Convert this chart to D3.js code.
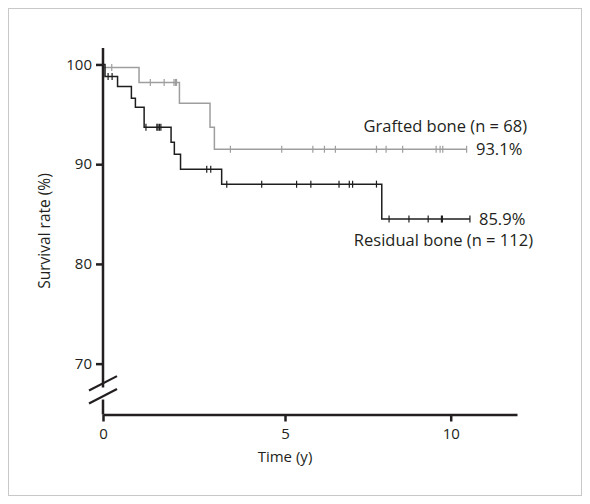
<!DOCTYPE html>
<html>
<head>
<meta charset="utf-8">
<script src="https://cdn.jsdelivr.net/npm/d3@7"></script>
<style>
  body { margin: 0; background: #fff; }
  text { font-family: "Open Sans", "Liberation Sans", Arial, sans-serif; fill: #231f20; }
</style>
</head>
<body>
<div id="chart"></div>
<script>
// Chart size
var width = 590;
var height = 504;

// Kaplan-Meier steps: [time (y), survival %]
var graftedSteps = [[0, 99.7], [0.99, 98.2], [2.10, 96.1], [2.94, 93.7], [3.06, 91.5], [10.48, 91.5]];
var graftedCensored = [0.24, 1.30, 1.68, 1.95, 1.99, 2.02, 3.50, 4.91, 5.84, 6.19, 6.52, 7.76, 8.05, 8.55, 9.56, 9.68, 9.76, 10.48];

var residualSteps = [[0, 100], [0.055, 98.8], [0.40, 97.8], [0.78, 96.6], [0.89, 95.7], [1.13, 93.7],
    [1.87, 92.2], [1.96, 91.0], [2.13, 89.5], [3.26, 88.0], [7.92, 84.5], [10.58, 84.5]];
var residualCensored = [0.14, 0.25, 1.18, 1.48, 1.51, 1.55, 1.59, 2.85, 2.96, 3.40, 4.36, 5.35, 5.78,
    6.63, 6.94, 7.04, 7.76, 8.14, 8.74, 9.32, 9.72, 9.75, 10.58];

var xTicks = [0, 5, 10];
var yTicks = [70, 80, 90, 100];

var seriesLabels = ["Grafted bone (n = 68)", "Residual bone (n = 112)"];
var endLabels = ["93.1%", "85.9%"];

// Scales (the original x axis is slightly stretched between 0 and 5)
var x = d3.scaleLinear()
    .domain([0, 5, 12])
    .range([103, 285, 517]);

var y = d3.scaleLinear()
    .domain([64.9, 101.65])
    .range([414.5, 48]);

var svg = d3.select("#chart")
    .append("svg")
    .attr("width", width)
    .attr("height", height);

// Outer frame
svg.append("rect")
    .attr("x", 8.5)
    .attr("y", 8.5)
    .attr("width", 573)
    .attr("height", 487)
    .attr("fill", "none")
    .attr("stroke", "#c8c8c8")
    .attr("stroke-width", 1);

// Curves
var line = d3.line()
    .x(function(d) { return x(d[0]); })
    .y(function(d) { return y(d[1]); })
    .curve(d3.curveStepAfter);

function lastValue(steps, t) {
    var v = steps[0][1];
    steps.forEach(function(s) { if (s[0] <= t) v = s[1]; });
    return v;
}

function drawCurve(steps, censored, color) {
    svg.append("path")
        .datum(steps)
        .attr("d", line)
        .attr("fill", "none")
        .attr("stroke", color)
        .attr("stroke-width", 1.5);

    svg.append("g")
        .selectAll("line")
        .data(censored)
        .enter()
        .append("line")
        .attr("x1", function(d) { return x(d); })
        .attr("x2", function(d) { return x(d); })
        .attr("y1", function(d) { return y(lastValue(steps, d)) - 3.5; })
        .attr("y2", function(d) { return y(lastValue(steps, d)) + 3.5; })
        .attr("stroke", color)
        .attr("stroke-width", 1.2);
}

drawCurve(graftedSteps, graftedCensored, "#9e9e9e");
drawCurve(residualSteps, residualCensored, "#1e1e1e");

// Y axis (broken near the bottom)
var axisColor = "#231f20";
var yAxis = d3.axisLeft(y)
    .tickValues(yTicks)
    .tickSize(7)
    .tickPadding(4);

var gy = svg.append("g")
    .attr("transform", "translate(" + x(0) + ",0)")
    .call(yAxis);
gy.select(".domain").remove();
gy.selectAll(".tick line").attr("stroke", axisColor).attr("stroke-width", 2.5);
gy.selectAll(".tick text")
    .style("font-size", "15px")
    .style("font-family", "Open Sans, Liberation Sans, Arial, sans-serif")
    .attr("fill", axisColor);

svg.append("line")
    .attr("x1", x(0)).attr("x2", x(0))
    .attr("y1", y(101.65)).attr("y2", y(67.6))
    .attr("stroke", axisColor).attr("stroke-width", 2.5);
svg.append("line")
    .attr("x1", x(0)).attr("x2", x(0))
    .attr("y1", y(66.4)).attr("y2", y(64.9))
    .attr("stroke", axisColor).attr("stroke-width", 2.5);

// Break marks
[[68.75, 67.3], [67.45, 66.0]].forEach(function(b) {
    svg.append("line")
        .attr("x1", x(0) - 14).attr("y1", y(b[1]))
        .attr("x2", x(0) + 14).attr("y2", y(b[0]))
        .attr("stroke", axisColor).attr("stroke-width", 2.2);
});

// X axis
var xAxis = d3.axisBottom(x)
    .tickValues(xTicks)
    .tickSize(7)
    .tickPadding(7)
    .tickSizeOuter(0);

var gx = svg.append("g")
    .attr("transform", "translate(0," + y(64.9) + ")")
    .call(xAxis);
gx.select(".domain").attr("stroke", axisColor).attr("stroke-width", 2.5);
gx.selectAll(".tick line").attr("stroke", axisColor).attr("stroke-width", 2.5);
gx.selectAll(".tick text")
    .style("font-size", "15px")
    .style("font-family", "Open Sans, Liberation Sans, Arial, sans-serif")
    .attr("fill", axisColor);

// Axis titles
svg.append("text")
    .attr("x", 285)
    .attr("y", 462)
    .attr("text-anchor", "middle")
    .style("font-size", "15px")
    .text("Time (y)");

svg.append("text")
    .attr("transform", "translate(50," + y(83.3) + ") rotate(-90)")
    .attr("text-anchor", "middle")
    .style("font-size", "15.5px")
    .text("Survival rate (%)");

// Series labels
svg.append("text")
    .attr("x", 527)
    .attr("y", 132)
    .attr("text-anchor", "end")
    .style("font-size", "16.5px")
    .text(seriesLabels[0]);

svg.append("text")
    .attr("x", 476)
    .attr("y", y(91.5) + 6)
    .style("font-size", "16.5px")
    .text(endLabels[0]);

svg.append("text")
    .attr("x", 479)
    .attr("y", y(84.5) + 6)
    .style("font-size", "16.5px")
    .text(endLabels[1]);

svg.append("text")
    .attr("x", 533)
    .attr("y", 246)
    .attr("text-anchor", "end")
    .style("font-size", "16.5px")
    .text(seriesLabels[1]);
</script>
</body>
</html>
